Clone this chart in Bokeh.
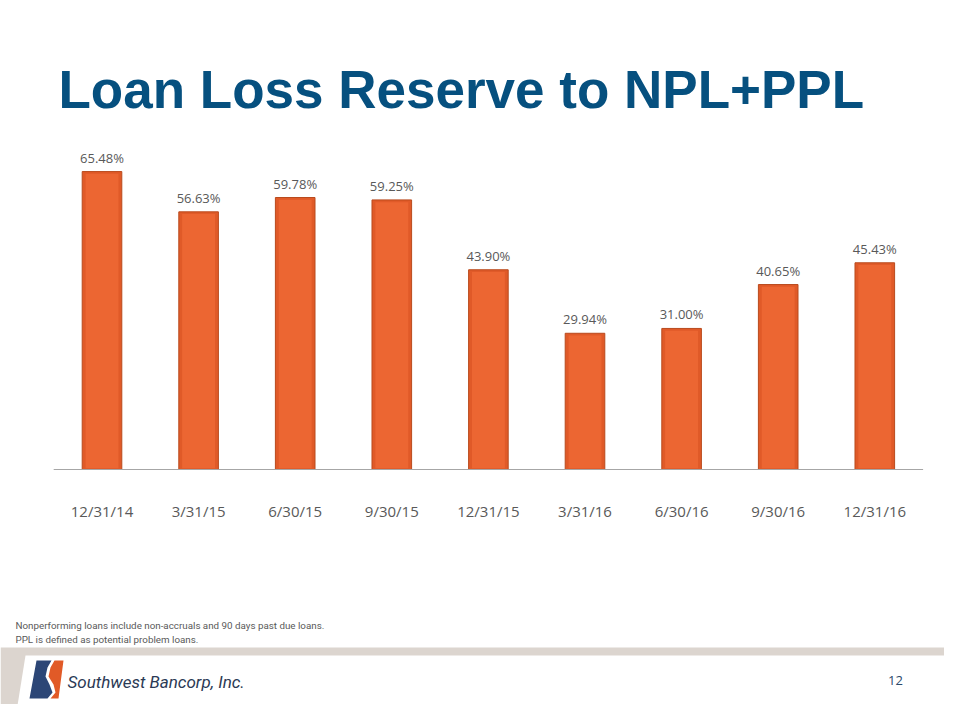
from bokeh.plotting import figure
from bokeh.models import Range1d
from bokeh.core.properties import value
from bokeh.embed import file_html
from bokeh.resources import INLINE

# ---- data ----
categories = ["12/31/14", "3/31/15", "6/30/15", "9/30/15", "12/31/15",
              "3/31/16", "6/30/16", "9/30/16", "12/31/16"]
ratios = [65.48, 56.63, 59.78, 59.25, 43.90, 29.94, 31.00, 40.65, 45.43]
value_labels = ["%.2f%%" % v for v in ratios]
title_text = "Loan Loss Reserve to NPL+PPL"
footnotes = ["Nonperforming loans include non-accruals and 90 days past due loans.",
             "PPL is defined as potential problem loans."]
company = "Southwest Bancorp, Inc."
page_number = "12"

# ---- layout ----
W, H = 944, 704
first_center, spacing = 101.5, 96.6
baseline_px, px_per_unit = 469.0, 4.55

idx = list(range(len(categories)))
x0 = -first_center / spacing
x1 = x0 + W / spacing
y_top = baseline_px / px_per_unit
y_bot = -(H - baseline_px) / px_per_unit

p = figure(width=W, height=H, output_backend="svg", toolbar_location=None,
           x_range=Range1d(x0, x1), y_range=Range1d(y_bot, y_top),
           x_axis_location=None, y_axis_location=None, min_border=0)
p.extra_x_ranges = {"px": Range1d(0, W)}
p.extra_y_ranges = {"py": Range1d(H, 0)}
p.grid.grid_line_color = None
p.outline_line_color = None
p.background_fill_color = "white"
p.border_fill_color = "white"

PX = dict(x_range_name="px", y_range_name="py")

# title
p.text(x=[58], y=[89], text=[title_text], text_font=value("Liberation Sans"),
       text_font_style="bold", text_font_size="53px", text_color="#06507F",
       text_baseline="alphabetic", text_align="left", **PX)

# bars
p.vbar(x=idx, top=ratios, bottom=0, width=0.41, fill_color="#E05A28",
       line_color="#B94A1D", line_width=1)
p.vbar(x=idx, top=[v - 0.5 for v in ratios], bottom=0.3, width=0.34,
       fill_color="#EC6632", line_color=None)

# axis line
p.segment(x0=[-0.5], y0=[0], x1=[len(categories) - 0.5], y1=[0],
          line_color="#A6A6A6", line_width=1)

# value labels
p.text(x=idx, y=ratios, text=value_labels, text_font=value("Open Sans"),
       text_font_size="13px", text_color="#595959", text_align="center",
       text_baseline="alphabetic", y_offset=-14)

# category labels
p.text(x=idx, y=[510] * len(idx), text=categories, text_font=value("Open Sans"),
       text_font_size="15px", text_color="#595959", text_align="center",
       text_baseline="alphabetic", y_range_name="py")

# footnotes
p.text(x=[15, 15], y=[625, 639], text=footnotes, text_font=value("Roboto"),
       text_font_size="9.8px", text_color="#595959", text_baseline="alphabetic",
       text_align="left", **PX)

# footer band
p.quad(left=[0], right=[960], top=[647], bottom=[708], fill_color="#DCD5CF",
       line_color=None, **PX)
p.patch(x=[25, 960, 960, 17], y=[655, 655, 705, 705], fill_color="white",
        line_color=None, **PX)

# logo emblem
p.patch(x=[36, 51, 47, 45, 49, 52, 47, 29],
        y=[660, 660, 667, 676, 684, 692, 698, 698],
        fill_color="#2C4676", line_color=None, **PX)
p.patch(x=[54, 63, 58, 50, 55, 53, 48, 50],
        y=[660, 660, 698, 698, 692, 684, 676, 667],
        fill_color="#E15A27", line_color=None, **PX)

p.text(x=[67], y=[681], text=[company], text_font=value("Roboto"),
       text_font_style="italic", text_font_size="17px", text_color="#2B3A55",
       text_baseline="alphabetic", text_align="left", **PX)

p.text(x=[895], y=[680], text=[page_number], text_font=value("Open Sans"),
       text_font_size="13px", text_color="#2C4A6B", text_baseline="alphabetic",
       text_align="center", **PX)

open("out.html", "w").write(file_html(p, INLINE))
